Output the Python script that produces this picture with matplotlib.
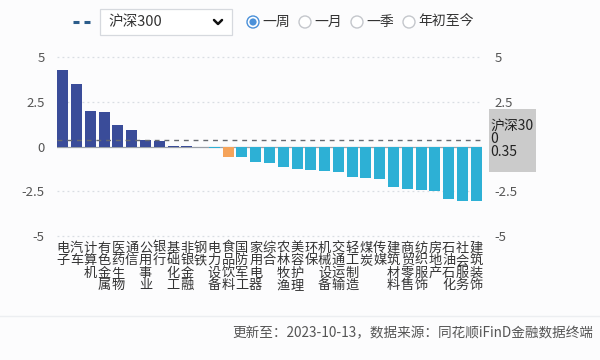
import matplotlib
matplotlib.use("Agg")
import matplotlib.pyplot as plt
from matplotlib.patches import Rectangle, Circle
import numpy as np

plt.rcParams['font.family'] = ['Noto Sans CJK SC', 'DejaVu Sans']

categories = ["电子", "汽车", "计算机", "有色金属", "医药生物", "通信", "公用事业", "银行",
              "基础化工", "非银金融", "钢铁", "电力设备", "食品饮料", "国防军工", "家用电器",
              "综合", "农林牧渔", "美容护理", "环保", "机械设备", "交通运输", "轻工制造",
              "煤炭", "传媒", "建筑材料", "商贸零售", "纺织服饰", "房地产", "石油石化",
              "社会服务", "建筑装饰"]
values = [4.27, 3.50, 2.00, 1.93, 1.22, 0.94, 0.36, 0.34,
          0.05, 0.01, 0.00, -0.05, -0.56, -0.60, -0.84,
          -0.93, -1.16, -1.25, -1.31, -1.37, -1.44, -1.72,
          -1.78, -1.80, -2.26, -2.36, -2.41, -2.49, -2.95,
          -3.02, -3.05]
highlight = ["食品饮料"]
benchmark_name = "沪深300"
benchmark_value = 0.35
yticks = [5, 2.5, 0, -2.5, -5]
ytick_labels = ["5", "2.5", "0", "-2.5", "-5"]
right_yticks = [5, 2.5, -2.5, -5]
right_ytick_labels = ["5", "2.5", "-2.5", "-5"]
periods = ["一周", "一月", "一季", "年初至今"]
footer = "更新至：2023-10-13，数据来源：同花顺iFinD金融数据终端"

C_POS = "#3a4c99"
C_NEG = "#2db0d5"
C_HL = "#f5a35a"
BG = "#fcfcfd"

W, H = 600, 360
fig = plt.figure(figsize=(6, 3.6), dpi=100, facecolor=BG)

ax_l, ax_r, ax_t, ax_b = 57, 482, 57.3, 236
ax = fig.add_axes([ax_l / W, 1 - ax_b / H, (ax_r - ax_l) / W, (ax_b - ax_t) / H])
ax.set_facecolor("none")

x = np.arange(len(categories))
colors = []
for c, v in zip(categories, values):
    if c in highlight:
        colors.append(C_HL)
    elif v >= 0:
        colors.append(C_POS)
    else:
        colors.append(C_NEG)
ax.bar(x, values, width=0.8, color=colors, zorder=3)
ax.set_xlim(-0.42, len(categories) - 1 + 0.42)
ax.set_ylim(-5, 5)

for yt in yticks:
    if yt != 0:
        ax.axhline(yt, color="#d9dde3", lw=0.9, ls=(0, (1.5, 2.5)), zorder=1, clip_on=False)
ax.axhline(0, color="#9aa0a8", lw=0.9, zorder=2)
ax.axhline(benchmark_value, color="#666a70", lw=1.0, ls=(0, (3.5, 3.5)), zorder=4)

for s in ax.spines.values():
    s.set_visible(False)
ax.set_yticks(yticks)
ax.set_yticklabels(ytick_labels)
ax.tick_params(axis="y", length=0, pad=9, labelsize=9.5, labelcolor="#555555")
ax.set_xticks(x)
ax.set_xticklabels(["\n".join(c) for c in categories], fontsize=9.5, color="#333333",
                   linespacing=0.95, va="top")
ax.tick_params(axis="x", length=0, pad=4)

ax2 = ax.twinx()
ax2.set_ylim(-5, 5)
ax2.set_yticks(right_yticks)
ax2.set_yticklabels(right_ytick_labels)
ax2.tick_params(axis="y", length=0, pad=9, labelsize=9.5, labelcolor="#555555")
for s in ax2.spines.values():
    s.set_visible(False)

ov = fig.add_axes([0, 0, 1, 1], zorder=10)
ov.set_xlim(0, W)
ov.set_ylim(H, 0)
ov.axis("off")
ov.patch.set_visible(False)

# benchmark label box
ov.add_patch(Rectangle((489, 109), 47, 63, facecolor="#cbcbcb", edgecolor="none"))
ov.text(490, 139, benchmark_name[:-1] + "\n" + benchmark_name[-1] + "\n" + f"{benchmark_value:.2f}",
        fontsize=10, color="#222222", va="center", ha="left", linespacing=0.9)

# controls at top
ov.plot([73, 79], [22, 22], color="#2b5c8a", lw=2.2, solid_capstyle="butt")
ov.plot([84, 90], [22, 22], color="#2b5c8a", lw=2.2, solid_capstyle="butt")
ov.add_patch(Rectangle((100, 9), 132, 26, facecolor="white", edgecolor="#d6d9de", lw=0.9))
ov.text(108, 22, benchmark_name, fontsize=10.5, color="#333333", va="center", ha="left")
ov.plot([214, 218, 222], [20, 24, 20], color="#111111", lw=1.8, solid_capstyle="round",
        solid_joinstyle="round")

radio_x = [253, 305, 357, 409]
for i, (rx, p) in enumerate(zip(radio_x, periods)):
    if i == 0:
        ov.add_patch(Circle((rx, 22), 6, facecolor="white", edgecolor="#4a90d9", lw=1.0))
        ov.add_patch(Circle((rx, 22), 3.6, facecolor="#4a90d9", edgecolor="none"))
    else:
        ov.add_patch(Circle((rx, 22), 6, facecolor="white", edgecolor="#c4c7cc", lw=1.0))
    ov.text(rx + 9, 22, p, fontsize=10, color="#333333", va="center", ha="left")

# footer
ov.plot([0, W], [316, 316], color="#eceef1", lw=1.0)
ov.text(593, 333, footer, fontsize=9.8, color="#555555", va="center", ha="right")

fig.savefig("out.png", dpi=100, facecolor=BG)
